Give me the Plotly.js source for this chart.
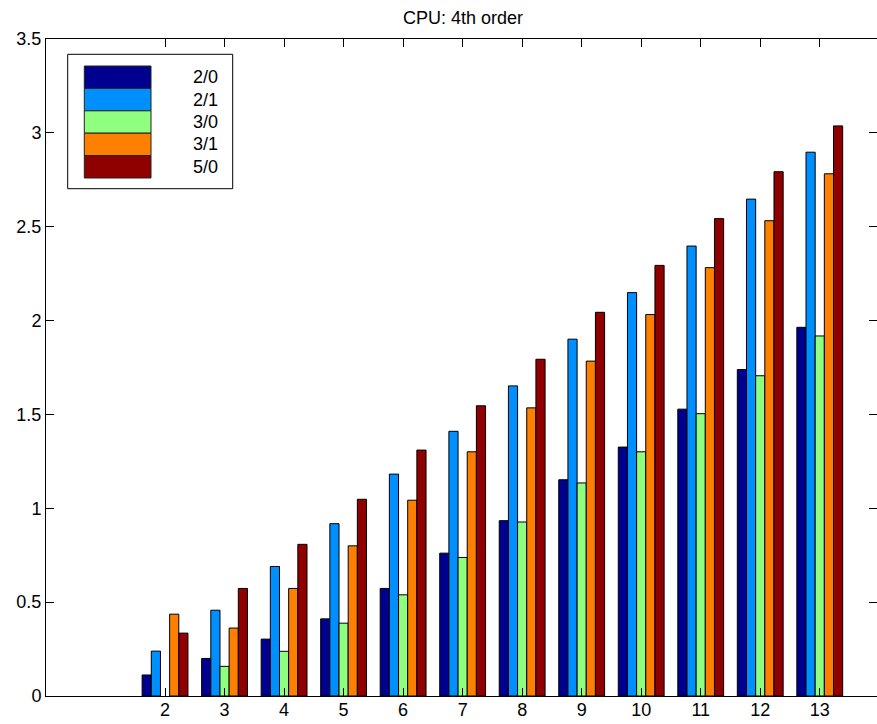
<!DOCTYPE html>
<html>
<head>
<meta charset="utf-8">
<script src="https://cdn.plot.ly/plotly-3.0.1.min.js"></script>
<style>
  html, body { margin: 0; padding: 0; background: #fff; }
  #chart { width: 877px; height: 724px; }
</style>
</head>
<body>
<div id="chart"></div>
<script>
// Polynomial order categories on the x axis
const categories = [2, 3, 4, 5, 6, 7, 8, 9, 10, 11, 12, 13];

// Series names (scheme variants)
const seriesNames = ['2/0', '2/1', '3/0', '3/1', '5/0'];

// CPU time per scheme
const cpu20 = [0.112, 0.200, 0.303, 0.411, 0.573, 0.761, 0.934, 1.152, 1.326, 1.528, 1.739, 1.964];
const cpu21 = [0.239, 0.457, 0.690, 0.918, 1.182, 1.410, 1.652, 1.901, 2.149, 2.397, 2.647, 2.897];
const cpu30 = [null, 0.158, 0.238, 0.388, 0.539, 0.738, 0.927, 1.135, 1.301, 1.504, 1.706, 1.918];
const cpu31 = [0.436, 0.362, 0.573, 0.800, 1.043, 1.301, 1.535, 1.784, 2.032, 2.282, 2.532, 2.782];
const cpu50 = [0.335, 0.573, 0.808, 1.048, 1.310, 1.546, 1.794, 2.044, 2.294, 2.543, 2.793, 3.037];

const seriesValues = [cpu20, cpu21, cpu30, cpu31, cpu50];
const seriesColors = ['#00008F', '#008FFF', '#8FFF80', '#FF8000', '#8F0000'];

const FONT = 'Liberation Sans, Arial, Helvetica, sans-serif';

const traces = seriesNames.map((name, i) => ({
  type: 'bar',
  name: name,
  x: categories,
  y: seriesValues[i],
  marker: { color: seriesColors[i], line: { color: '#000', width: 1 } },
  showlegend: false,
  hoverinfo: 'skip'
}));

// Plot-area geometry (pixels) used to place the boxed legend
const W = 877, H = 724;
const M = { l: 46, r: 0, t: 39, b: 28 };
const pw = W - M.l - M.r, ph = H - M.t - M.b;
const px = v => (v - M.l) / pw;
const py = v => (H - M.b - v) / ph;

const shapes = [];
const annotations = [];

// Legend frame
shapes.push({
  type: 'rect', xref: 'paper', yref: 'paper',
  x0: px(67.7), x1: px(232.7), y0: py(188.7), y1: py(54.3),
  line: { color: '#000', width: 1 }, fillcolor: '#fff', layer: 'above'
});

// Legend swatches and labels, stacked
const swTop = 66, swBottom = 178;
const rowH = (swBottom - swTop) / seriesNames.length;
seriesNames.forEach((name, i) => {
  const top = swTop + i * rowH;
  shapes.push({
    type: 'rect', xref: 'paper', yref: 'paper',
    x0: px(84.3), x1: px(151), y0: py(top + rowH), y1: py(top),
    line: { color: '#222', width: 1 }, fillcolor: seriesColors[i], layer: 'above'
  });
  annotations.push({
    xref: 'paper', yref: 'paper',
    x: px(191), y: py(top + rowH / 2),
    xanchor: 'left', yanchor: 'middle',
    text: name, showarrow: false,
    font: { family: FONT, size: 18, color: '#000' }
  });
});

const axisCommon = {
  showline: true, linecolor: '#000', linewidth: 1,
  mirror: 'ticks', ticks: 'inside', ticklen: 8, tickcolor: '#000', tickwidth: 1,
  showgrid: false, zeroline: false,
  tickfont: { family: FONT, size: 18, color: '#000' }
};

const layout = {
  width: W, height: H,
  margin: M,
  paper_bgcolor: '#fff', plot_bgcolor: '#fff',
  title: {
    text: 'CPU: 4th order',
    font: { family: FONT, size: 18, color: '#000' },
    xref: 'container', yref: 'container',
    x: 463 / W, xanchor: 'center',
    y: 1 - 18 / H, yanchor: 'middle'
  },
  barmode: 'group',
  bargap: 0.23,
  bargroupgap: 0,
  xaxis: Object.assign({}, axisCommon, {
    range: [0, (W - M.l) / 59.52],
    tickvals: categories,
    ticklabelstandoff: -3
  }),
  yaxis: Object.assign({}, axisCommon, {
    range: [0, 3.5],
    tickvals: [0, 0.5, 1, 1.5, 2, 2.5, 3, 3.5],
    ticktext: ['0', '0.5', '1', '1.5', '2', '2.5', '3', '3.5']
  }),
  shapes: shapes,
  annotations: annotations,
  hovermode: false
};

Plotly.newPlot('chart', traces, layout, { displayModeBar: false, staticPlot: true });
</script>
</body>
</html>
